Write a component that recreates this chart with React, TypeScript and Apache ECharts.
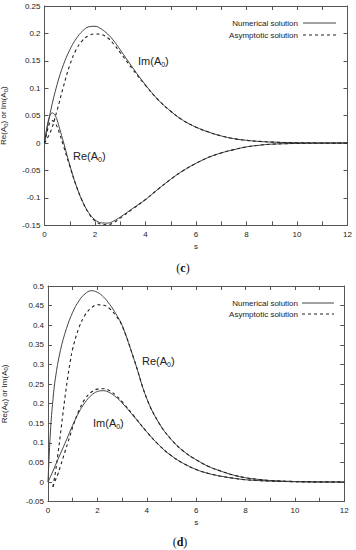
import React, { useEffect, useRef } from "react";
import * as echarts from "echarts";

// ---------- Panel (c) ----------
const sReC = [0, 0.1, 0.2, 0.3, 0.4, 0.5, 0.6, 0.75, 1, 1.25, 1.5, 1.75, 2, 2.25, 2.5, 2.75, 3, 3.5, 4, 4.5, 5, 5.5, 6, 6.5, 7, 7.5, 8, 8.5, 9, 10, 11, 12];
const reNumC = [0, 0.03, 0.048, 0.055, 0.052, 0.042, 0.026, 0.002, -0.04, -0.077, -0.106, -0.127, -0.14, -0.1455, -0.146, -0.142, -0.135, -0.119, -0.103, -0.084, -0.066, -0.05, -0.037, -0.026, -0.018, -0.012, -0.007, -0.004, -0.002, -0.0007, -0.0002, 0];
const reAsyC = [0, 0.02, 0.036, 0.041, 0.038, 0.03, 0.017, -0.005, -0.042, -0.077, -0.106, -0.128, -0.142, -0.148, -0.149, -0.145, -0.137, -0.12, -0.103, -0.084, -0.066, -0.05, -0.037, -0.026, -0.018, -0.012, -0.007, -0.004, -0.002, -0.0007, -0.0002, 0];

const sImC = [0, 0.25, 0.5, 0.75, 1, 1.25, 1.5, 1.75, 2, 2.25, 2.5, 2.75, 3, 3.5, 4, 4.5, 5, 5.5, 6, 6.5, 7, 7.5, 8, 8.5, 9, 10, 11, 12];
const imNumC = [0, 0.06, 0.107, 0.143, 0.17, 0.19, 0.204, 0.212, 0.213, 0.208, 0.199, 0.186, 0.17, 0.137, 0.106, 0.079, 0.058, 0.041, 0.029, 0.02, 0.013, 0.008, 0.005, 0.003, 0.0018, 0.0006, 0.0002, 0.0001];
const imAsyC = [0, 0.022, 0.06, 0.103, 0.142, 0.17, 0.187, 0.196, 0.199, 0.198, 0.192, 0.18, 0.165, 0.134, 0.105, 0.079, 0.058, 0.041, 0.029, 0.02, 0.013, 0.008, 0.005, 0.003, 0.0018, 0.0006, 0.0002, 0.0001];

// ---------- Panel (d) ----------
const sNumD = [0, 0.1, 0.2, 0.3, 0.5, 0.75, 1, 1.25, 1.5, 1.75, 2, 2.25, 2.5, 2.75, 3, 3.5, 4, 4.5, 5, 5.5, 6, 6.5, 7, 7.5, 8, 8.5, 9, 10, 11, 12];
const reNumD = [0, 0.13, 0.21, 0.265, 0.335, 0.392, 0.433, 0.462, 0.48, 0.488, 0.484, 0.472, 0.453, 0.429, 0.4, 0.31, 0.213, 0.15, 0.108, 0.078, 0.057, 0.04, 0.028, 0.018, 0.011, 0.007, 0.004, 0.0015, 0.0005, 0.0002];
const imNumD = [0, 0.014, 0.028, 0.043, 0.072, 0.108, 0.145, 0.178, 0.203, 0.221, 0.231, 0.233, 0.228, 0.217, 0.202, 0.166, 0.128, 0.094, 0.067, 0.047, 0.032, 0.022, 0.015, 0.01, 0.006, 0.004, 0.0025, 0.001, 0.0003, 0.0001];

const sAsyD = [0.2, 0.3, 0.4, 0.5, 0.6, 0.7, 0.8, 0.9, 1, 1.25, 1.5, 1.75, 2, 2.25, 2.5, 2.75, 3, 3.5, 4, 4.5, 5, 5.5, 6, 6.5, 7, 7.5, 8, 8.5, 9, 10, 11, 12];
const reAsyD = [-0.012, 0.025, 0.07, 0.12, 0.172, 0.222, 0.267, 0.307, 0.34, 0.393, 0.426, 0.444, 0.452, 0.451, 0.442, 0.424, 0.399, 0.31, 0.213, 0.15, 0.108, 0.078, 0.057, 0.04, 0.028, 0.018, 0.011, 0.007, 0.004, 0.0015, 0.0005, 0.0002];
const imAsyD = [-0.012, 0.005, 0.02, 0.04, 0.06, 0.08, 0.1, 0.12, 0.14, 0.182, 0.212, 0.229, 0.237, 0.238, 0.233, 0.221, 0.205, 0.167, 0.128, 0.094, 0.067, 0.047, 0.032, 0.022, 0.015, 0.01, 0.006, 0.004, 0.0025, 0.001, 0.0003, 0.0001];

const NUM = "Numerical solution";
const ASY = "Asymptotic solution";
const FONT = "Liberation Sans";
const AXIS_COLOR = "#555";
const TEXT_COLOR = "#222";
const SOLID_COLOR = "#444";
const DASH_COLOR = "#222";
const DASH = [3, 3];

const zip = (xs: number[], ys: number[]) => xs.map((x, i) => [x, ys[i]]);

function xAxes(gridIndex: number) {
  const common = {
    type: "value" as const,
    gridIndex,
    min: 0,
    max: 12,
    interval: 1,
    splitLine: { show: false },
    axisLine: { show: true, onZero: false, lineStyle: { color: AXIS_COLOR, width: 1 } },
    axisTick: { show: true, inside: true, length: 4, lineStyle: { color: AXIS_COLOR } },
  };
  return [
    {
      ...common,
      position: "bottom",
      name: "s",
      nameLocation: "middle",
      nameGap: 17,
      nameTextStyle: { fontFamily: FONT, fontSize: 8, color: TEXT_COLOR },
      axisLabel: {
        margin: 5,
        fontFamily: FONT,
        fontSize: 8,
        color: TEXT_COLOR,
        formatter: (v: number) => (Math.round(v) % 2 === 0 ? String(Math.round(v)) : ""),
      },
    },
    { ...common, position: "top", axisLabel: { show: false } },
  ];
}

function yAxes(gridIndex: number, min: number, max: number, nameGap: number) {
  const common = {
    type: "value" as const,
    gridIndex,
    min,
    max,
    interval: 0.05,
    splitLine: { show: false },
    axisLine: { show: true, onZero: false, lineStyle: { color: AXIS_COLOR, width: 1 } },
    axisTick: { show: true, inside: true, length: 4, lineStyle: { color: AXIS_COLOR } },
  };
  return [
    {
      ...common,
      position: "left",
      name: "Re(A{sub|0}) or Im(A{sub|0})",
      nameLocation: "middle",
      nameGap,
      nameRotate: 90,
      nameTextStyle: {
        fontFamily: FONT,
        fontSize: 8,
        color: TEXT_COLOR,
        rich: { sub: { fontFamily: FONT, fontSize: 6, color: TEXT_COLOR, padding: [4, 0, 0, 0] } },
      },
      axisLabel: {
        margin: 4,
        fontFamily: FONT,
        fontSize: 8,
        color: TEXT_COLOR,
        formatter: (v: number) => String(Math.round(v * 100) / 100),
      },
    },
    { ...common, position: "right", axisLabel: { show: false } },
  ];
}

function line(name: string, data: number[][], xi: number, yi: number, dashed: boolean) {
  return {
    type: "line",
    name,
    data,
    xAxisIndex: xi,
    yAxisIndex: yi,
    showSymbol: false,
    symbol: "none",
    smooth: 0.4,
    clip: true,
    lineStyle: dashed
      ? { color: DASH_COLOR, width: 1.1, type: DASH }
      : { color: SOLID_COLOR, width: 1 },
    itemStyle: { color: dashed ? DASH_COLOR : SOLID_COLOR },
    emphasis: { disabled: true },
  };
}

function legendBlock(textRight: number, lineX1: number, lineX2: number, y1: number, y2: number) {
  const txt = (y: number, t: string) => ({
    type: "text",
    x: textRight,
    y,
    style: { text: t, fontFamily: FONT, fontSize: 8, fill: TEXT_COLOR, align: "right", verticalAlign: "middle" },
  });
  return [
    txt(y1, NUM),
    { type: "line", shape: { x1: lineX1, y1, x2: lineX2, y2: y1 }, style: { stroke: SOLID_COLOR, lineWidth: 1 } },
    txt(y2, ASY),
    { type: "line", shape: { x1: lineX1, y1: y2, x2: lineX2, y2 }, style: { stroke: DASH_COLOR, lineWidth: 1.1, lineDash: DASH } },
  ];
}

function curveLabel(x: number, y: number, main: string) {
  return {
    type: "text",
    x,
    y,
    style: {
      text: `${main}(A{sub|0})`,
      fontFamily: FONT,
      fontSize: 11,
      fill: "#222",
      verticalAlign: "middle",
      rich: { sub: { fontFamily: FONT, fontSize: 7, fill: "#222", padding: [6, 0, 0, 0] } },
    },
  };
}

function caption(x: number, y: number, letter: string) {
  return {
    type: "text",
    x,
    y,
    style: {
      text: `({b|${letter}})`,
      fontFamily: "Liberation Serif",
      fontSize: 12,
      fill: "#111",
      align: "center",
      verticalAlign: "middle",
      rich: { b: { fontFamily: "Liberation Serif", fontSize: 12, fontWeight: "bold", fill: "#111" } },
    },
  };
}

export default function App() {
  const ref = useRef<HTMLDivElement>(null);
  useEffect(() => {
    if (!ref.current) return;
    const chart = echarts.init(ref.current, undefined, { renderer: "svg" });
    chart.setOption({
      animation: false,
      backgroundColor: "#fff",
      grid: [
        { left: 44.5, top: 6, width: 303, height: 219.3, containLabel: false, outerBoundsMode: "none" },
        { left: 48, top: 286, width: 296.3, height: 215.7, containLabel: false, outerBoundsMode: "none" },
      ],
      xAxis: [...xAxes(0), ...xAxes(1)],
      yAxis: [...yAxes(0, -0.15, 0.25, 36), ...yAxes(1, -0.05, 0.5, 39)],
      series: [
        line(NUM, zip(sImC, imNumC), 0, 0, false),
        line(ASY, zip(sImC, imAsyC), 0, 0, true),
        line(NUM, zip(sReC, reNumC), 0, 0, false),
        line(ASY, zip(sReC, reAsyC), 0, 0, true),
        line(NUM, zip(sNumD, reNumD), 2, 2, false),
        line(ASY, zip(sAsyD, reAsyD), 2, 2, true),
        line(NUM, zip(sNumD, imNumD), 2, 2, false),
        line(ASY, zip(sAsyD, imAsyD), 2, 2, true),
      ],
      graphic: [
        ...legendBlock(298, 303, 336, 23, 35),
        ...legendBlock(298, 302, 334, 303, 314),
        curveLabel(138, 61, "Im"),
        curveLabel(73, 156, "Re"),
        curveLabel(142, 361, "Re"),
        curveLabel(93, 423, "Im"),
        caption(183, 268, "c"),
        caption(180, 542, "d"),
      ],
    });
    return () => chart.dispose();
  }, []);
  return (
    <div
      ref={ref}
      style={{ position: "absolute", left: 0, top: 0, width: 356, height: 550, background: "#fff" }}
    />
  );
}
